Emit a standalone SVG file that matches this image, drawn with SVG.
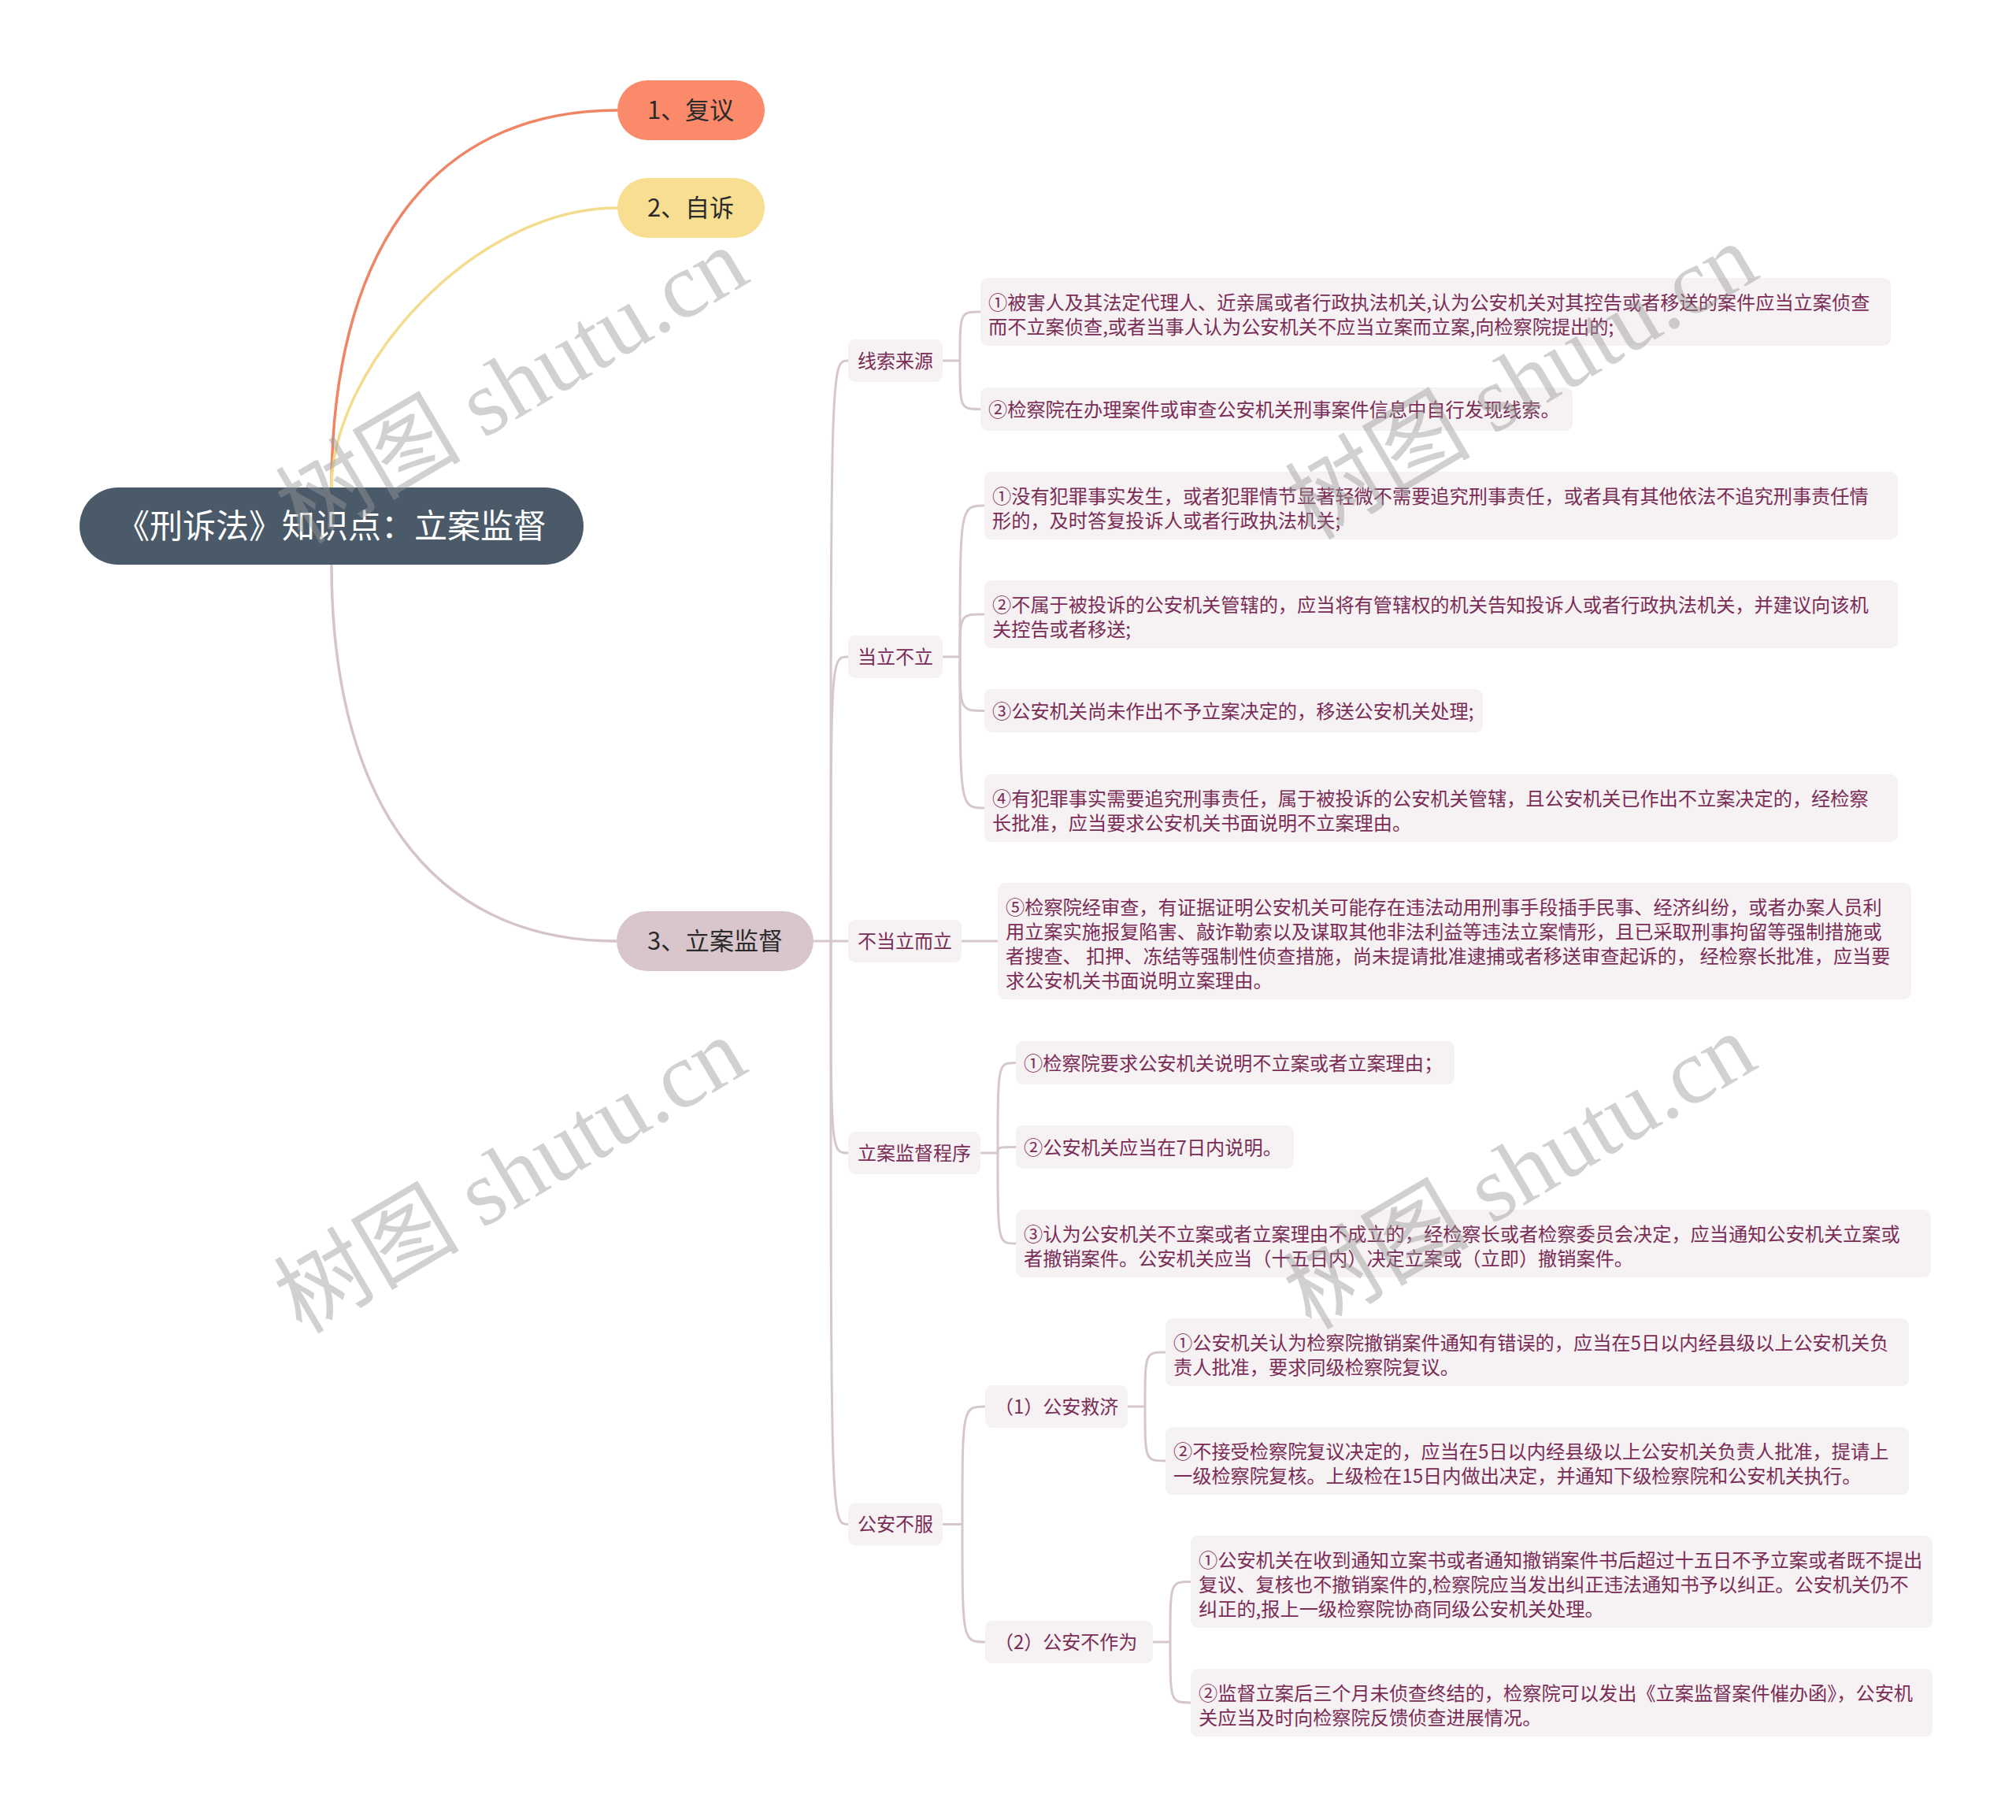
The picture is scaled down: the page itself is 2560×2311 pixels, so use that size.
<svg xmlns="http://www.w3.org/2000/svg" width="2560" height="2311" viewBox="0 0 2560 2311">
<style>
.bg{fill:#ffffff}
.c{fill:none;stroke:#d6c7cd;stroke-width:3}
.l2{fill:#f6f1f3}
.t2{font-family:"Noto Sans CJK SC","Noto Sans",sans-serif;font-size:24px;fill:#7a2d56}
.t3{font-family:"Noto Sans CJK SC","Noto Sans",sans-serif;font-size:24.2px;fill:#7a2d56}
.t1{font-family:"Noto Sans CJK SC","Noto Sans",sans-serif;font-size:31px;fill:#2b2b2b;text-anchor:middle}
.tr{font-family:"Noto Sans CJK SC","Noto Sans",sans-serif;font-size:42px;fill:#ffffff;text-anchor:middle}
.wm{font-family:"Liberation Serif","Noto Sans CJK SC",serif;font-size:118px;fill:#999999;fill-opacity:0.45}
</style>
<rect class="bg" x="0" y="0" width="2560" height="2311"/>
<g id="connectors">
<path d="M421,619 C421,330 540,140 784,140" fill="none" stroke="#ee8665" stroke-width="3.5"/>
<path d="M421,619 C421,469 600,264 784,264" fill="none" stroke="#f3dc8e" stroke-width="3.5"/>
<path d="M421,717 C421,1006 540,1195 783,1195" fill="none" stroke="#d6c4cb" stroke-width="3.5"/>
<path class="c" d="M1033,1195 H1077"/>
<path class="c" d="M1055,1195 C1055,458 1055,458 1077,458"/>
<path class="c" d="M1055,1195 C1055,834 1055,834 1077,834"/>
<path class="c" d="M1055,1195 C1055,1464 1055,1464 1077,1464"/>
<path class="c" d="M1055,1195 C1055,1935.5 1055,1935.5 1077,1935.5"/>
<path class="c" d="M1197,458 H1219"/>
<path class="c" d="M1219,458 C1219,396 1219,396 1245,396"/>
<path class="c" d="M1219,458 C1219,519.5 1219,519.5 1245,519.5"/>
<path class="c" d="M1197,834 H1219"/>
<path class="c" d="M1219,834 C1219,642 1219,642 1250,642"/>
<path class="c" d="M1219,834 C1219,780 1219,780 1250,780"/>
<path class="c" d="M1219,834 C1219,902.5 1219,902.5 1250,902.5"/>
<path class="c" d="M1219,834 C1219,1026 1219,1026 1250,1026"/>
<path class="c" d="M1221,1195 H1267"/>
<path class="c" d="M1245,1464 H1267"/>
<path class="c" d="M1267,1464 C1267,1349.5 1267,1349.5 1290,1349.5"/>
<path class="c" d="M1267,1464 C1267,1456.5 1267,1456.5 1290,1456.5"/>
<path class="c" d="M1267,1464 C1267,1579 1267,1579 1290,1579"/>
<path class="c" d="M1197,1935.5 H1222"/>
<path class="c" d="M1222,1935.5 C1222,1786 1222,1786 1251,1786"/>
<path class="c" d="M1222,1935.5 C1222,2085 1222,2085 1251,2085"/>
<path class="c" d="M1432,1786 H1454"/>
<path class="c" d="M1454,1786 C1454,1717 1454,1717 1480,1717"/>
<path class="c" d="M1454,1786 C1454,1855 1454,1855 1480,1855"/>
<path class="c" d="M1464,2085 H1486"/>
<path class="c" d="M1486,2085 C1486,2008.5 1486,2008.5 1512,2008.5"/>
<path class="c" d="M1486,2085 C1486,2162 1486,2162 1512,2162"/>
</g>
<g id="root">
<rect x="101" y="619" width="640" height="98" rx="49" fill="#4a5a69"/>
<text class="tr" x="421" y="683">《刑诉法》知识点：立案监督</text>
</g>
<g id="n1">
<rect x="784" y="102" width="187" height="76" rx="38" fill="#fa8a6a"/>
<text class="t1" x="877" y="151">1、复议</text>
</g>
<g id="n2">
<rect x="784" y="226" width="187" height="76" rx="38" fill="#f8de90"/>
<text class="t1" x="877" y="275">2、自诉</text>
</g>
<g id="n3">
<rect x="783" y="1157" width="250" height="76" rx="38" fill="#d9c6cd"/>
<text class="t1" x="908" y="1206">3、立案监督</text>
</g>
<g id="xs">
<rect class="l2" x="1077" y="431" width="120" height="54" rx="9"/>
<text class="t2" x="1089" y="466.5">线索来源</text>
</g>
<g id="xs1">
<rect class="l2" x="1245" y="353" width="1156" height="86" rx="9"/>
<text class="t3" x="1255" y="393">①被害人及其法定代理人、近亲属或者行政执法机关,认为公安机关对其控告或者移送的案件应当立案侦查</text>
<text class="t3" x="1255" y="424">而不立案侦查,或者当事人认为公安机关不应当立案而立案,向检察院提出的;</text>
</g>
<g id="xs2">
<rect class="l2" x="1245" y="492" width="752" height="55" rx="9"/>
<text class="t3" x="1255" y="529">②检察院在办理案件或审查公安机关刑事案件信息中自行发现线索。</text>
</g>
<g id="dl">
<rect class="l2" x="1077" y="807" width="120" height="54" rx="9"/>
<text class="t2" x="1089" y="842.5">当立不立</text>
</g>
<g id="dl1">
<rect class="l2" x="1250" y="599" width="1160" height="86" rx="9"/>
<text class="t3" x="1260" y="639">①没有犯罪事实发生，或者犯罪情节显著轻微不需要追究刑事责任，或者具有其他依法不追究刑事责任情</text>
<text class="t3" x="1260" y="670">形的，及时答复投诉人或者行政执法机关;</text>
</g>
<g id="dl2">
<rect class="l2" x="1250" y="737" width="1160" height="86" rx="9"/>
<text class="t3" x="1260" y="777">②不属于被投诉的公安机关管辖的，应当将有管辖权的机关告知投诉人或者行政执法机关，并建议向该机</text>
<text class="t3" x="1260" y="808">关控告或者移送;</text>
</g>
<g id="dl3">
<rect class="l2" x="1250" y="875" width="633" height="55" rx="9"/>
<text class="t3" x="1260" y="912">③公安机关尚未作出不予立案决定的，移送公安机关处理;</text>
</g>
<g id="dl4">
<rect class="l2" x="1250" y="983" width="1160" height="86" rx="9"/>
<text class="t3" x="1260" y="1023">④有犯罪事实需要追究刑事责任，属于被投诉的公安机关管辖，且公安机关已作出不立案决定的，经检察</text>
<text class="t3" x="1260" y="1054">长批准，应当要求公安机关书面说明不立案理由。</text>
</g>
<g id="bd">
<rect class="l2" x="1077" y="1168" width="144" height="54" rx="9"/>
<text class="t2" x="1089" y="1203.5">不当立而立</text>
</g>
<g id="bd1">
<rect class="l2" x="1267" y="1121" width="1160" height="148" rx="9"/>
<text class="t3" x="1277" y="1161">⑤检察院经审查，有证据证明公安机关可能存在违法动用刑事手段插手民事、经济纠纷，或者办案人员利</text>
<text class="t3" x="1277" y="1192">用立案实施报复陷害、敲诈勒索以及谋取其他非法利益等违法立案情形，且已采取刑事拘留等强制措施或</text>
<text class="t3" x="1277" y="1223">者搜查、 扣押、冻结等强制性侦查措施，尚未提请批准逮捕或者移送审查起诉的， 经检察长批准，应当要</text>
<text class="t3" x="1277" y="1254">求公安机关书面说明立案理由。</text>
</g>
<g id="cx">
<rect class="l2" x="1077" y="1437" width="168" height="54" rx="9"/>
<text class="t2" x="1089" y="1472.5">立案监督程序</text>
</g>
<g id="cx1">
<rect class="l2" x="1290" y="1322" width="557" height="55" rx="9"/>
<text class="t3" x="1300" y="1359">①检察院要求公安机关说明不立案或者立案理由；</text>
</g>
<g id="cx2">
<rect class="l2" x="1290" y="1429" width="353" height="55" rx="9"/>
<text class="t3" x="1300" y="1466">②公安机关应当在7日内说明。</text>
</g>
<g id="cx3">
<rect class="l2" x="1290" y="1536" width="1162" height="86" rx="9"/>
<text class="t3" x="1300" y="1576">③认为公安机关不立案或者立案理由不成立的，经检察长或者检察委员会决定，应当通知公安机关立案或</text>
<text class="t3" x="1300" y="1607">者撤销案件。公安机关应当（十五日内）决定立案或（立即）撤销案件。</text>
</g>
<g id="gf">
<rect class="l2" x="1077" y="1908.5" width="120" height="54" rx="9"/>
<text class="t2" x="1089" y="1944">公安不服</text>
</g>
<g id="jj">
<rect class="l2" x="1251" y="1759" width="181" height="54" rx="9"/>
<text class="t2" x="1263" y="1794.5">（1）公安救济</text>
</g>
<g id="jj1">
<rect class="l2" x="1480" y="1674" width="944" height="86" rx="9"/>
<text class="t3" x="1490" y="1714">①公安机关认为检察院撤销案件通知有错误的，应当在5日以内经县级以上公安机关负</text>
<text class="t3" x="1490" y="1745">责人批准，要求同级检察院复议。</text>
</g>
<g id="jj2">
<rect class="l2" x="1480" y="1812" width="944" height="86" rx="9"/>
<text class="t3" x="1490" y="1852">②不接受检察院复议决定的，应当在5日以内经县级以上公安机关负责人批准，提请上</text>
<text class="t3" x="1490" y="1883">一级检察院复核。上级检在15日内做出决定，并通知下级检察院和公安机关执行。</text>
</g>
<g id="bz">
<rect class="l2" x="1251" y="2058" width="213" height="54" rx="9"/>
<text class="t2" x="1263" y="2093.5">（2）公安不作为</text>
</g>
<g id="bz1">
<rect class="l2" x="1512" y="1950" width="942" height="117" rx="9"/>
<text class="t3" x="1522" y="1990">①公安机关在收到通知立案书或者通知撤销案件书后超过十五日不予立案或者既不提出</text>
<text class="t3" x="1522" y="2021">复议、复核也不撤销案件的,检察院应当发出纠正违法通知书予以纠正。公安机关仍不</text>
<text class="t3" x="1522" y="2052">纠正的,报上一级检察院协商同级公安机关处理。</text>
</g>
<g id="bz2">
<rect class="l2" x="1512" y="2119" width="942" height="86" rx="9"/>
<text class="t3" x="1522" y="2159">②监督立案后三个月未侦查终结的，检察院可以发出《立案监督案件催办函》，公安机</text>
<text class="t3" x="1522" y="2190">关应当及时向检察院反馈侦查进展情况。</text>
</g>
<g id="watermark">
<text class="wm" transform="translate(385,692) rotate(-30.5)">树图 shutu.cn</text>
<text class="wm" transform="translate(1667,687) rotate(-30.5)">树图 shutu.cn</text>
<text class="wm" transform="translate(383,1695) rotate(-30.5)">树图 shutu.cn</text>
<text class="wm" transform="translate(1665,1690) rotate(-30.5)">树图 shutu.cn</text>
</g>
</svg>
